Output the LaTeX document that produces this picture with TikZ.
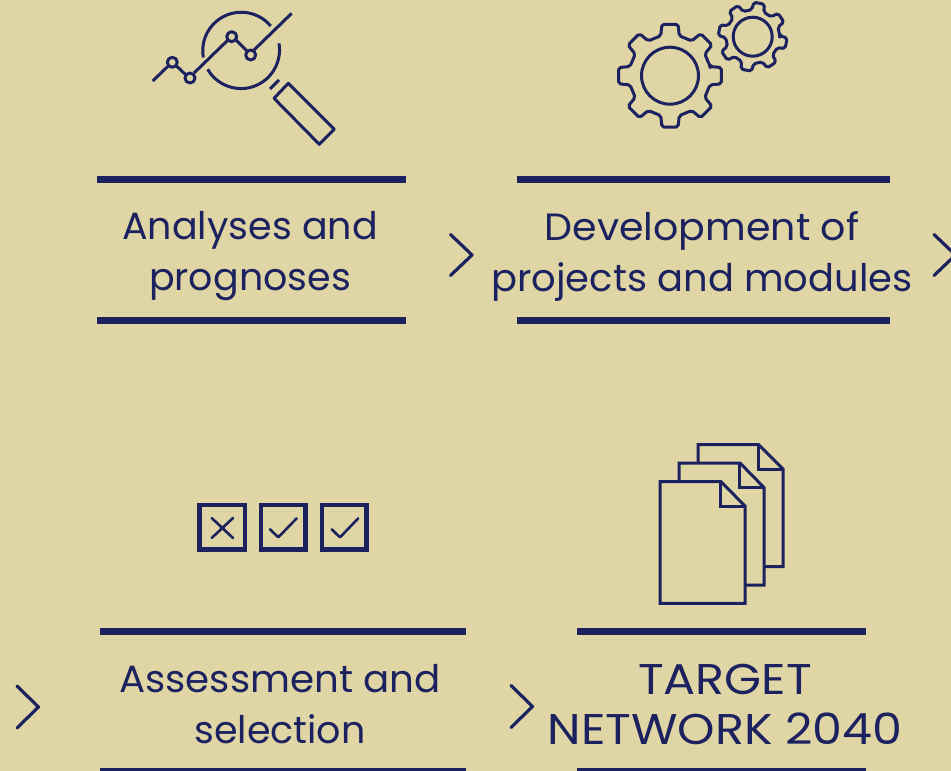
\documentclass[tikz,border=0pt]{standalone}
\usepackage{fontspec}
\setmainfont{Poppins}
\definecolor{bgsand}{HTML}{E0D5A4}
\definecolor{navy}{HTML}{1C2260}
\newcommand{\wide}[2]{{\addfontfeature{FakeStretch=#1}#2}}
\tikzset{
 x=1pt,y=-1pt,
 bar/.style={draw=navy,line width=7pt},
 chev/.style={draw=navy,line width=3.2pt,line cap=round,line join=round},
 icon/.style={draw=navy,line width=3pt,line join=round},
 label/.style={text=navy,align=center,inner sep=0pt,font=\fontsize{38}{51}\selectfont},
 caps/.style={text=navy,align=center,inner sep=0pt,font=\fontsize{43}{50}\selectfont\addfontfeature{FakeStretch=1.107}},
}
\begin{document}
\begin{tikzpicture}
\useasboundingbox (0,0) rectangle (951,771);
\fill[bgsand] (0,0) rectangle (951,771);
% bars
\draw[bar] (97,179.5) -- (406,179.5);
\draw[bar] (97,320.8) -- (406,320.8);
\draw[bar] (517,179.5) -- (890,179.5);
\draw[bar] (517,320.8) -- (890,320.8);
\draw[bar] (100,631) -- (466,631);
\draw[bar] (100,771) -- (466,771);
\draw[bar] (577,631) -- (866,631);
\draw[bar] (577,771) -- (866,771);
% labels
\node[label] (a) at (250,256) {Analyses and\\prognoses};
\node[label] (d) at (702,256) {\wide{1.04}{Development of}\\\wide{1.012}{projects and modules}};
\node[label] (s) at (280,704) {\wide{1.02}{Assessment and}\\selection};
\node[caps] (t) at (725,704) {TARGET\\NETWORK 2040};
% chevrons
\draw[chev] (450.5,234.5) -- (472,255) -- (450.5,275.5);
\draw[chev] (934,234.5) -- (955.5,255) -- (934,275.5);
\draw[chev] (17,686) -- (38.5,707) -- (17,728);
\draw[chev] (511,685.5) -- (532.5,706.5) -- (511,727.5);
% magnifier
\begin{scope}[icon]
\draw (270.7,26) arc[start angle=-40,end angle=-190,radius=38.5];
\draw (207.7,69.3) arc[start angle=150,end angle=-10,radius=38.5];
\draw (152.7,81) -- (168.7,65.5) (176,65.5) -- (186,75) (194,73) -- (228,40) (236,40) -- (247,51) (254,50) -- (291.7,13.3);
\draw (172.3,62.3) circle[radius=5];
\draw (190,78) circle[radius=5];
\draw (231.7,36.7) circle[radius=5];
\draw (250.7,55) circle[radius=5];
\draw (270,89) -- (279,80);
\draw (288.3,83.3) -- (334.3,129.3) -- (319.3,144.3) -- (274,98.3) -- cycle;
\end{scope}
% gears
\def\gear#1#2#3#4#5{%
 \begin{scope}[shift={(#1,#2)}]
 \draw[icon,rounded corners=2pt] (#5-14:#4)
 \foreach \k in {0,...,7}{
  -- ({#5+45*\k-13}:#4) -- ({#5+45*\k-9}:#3) -- ({#5+45*\k+9}:#3) -- ({#5+45*\k+13}:#4)
 } -- cycle;
 \end{scope}}
\gear{670}{75.7}{52}{41}{0}
\draw[icon] (670,75.7) circle[radius=28.5];
\gear{752.7}{36.7}{34.5}{27}{11}
\draw[icon] (752.7,36.7) circle[radius=19.5];
% check boxes
\draw[navy,line width=4.4pt] (199.5,505.2) rectangle (245,549.6);
\draw[navy,line width=4.4pt] (260.7,505.2) rectangle (305.5,549.6);
\draw[navy,line width=4.4pt] (322,505.2) rectangle (366.5,549.6);
\draw[navy,line width=2.6pt,line cap=round] (211.7,518) -- (233,538) (233,518) -- (211.7,538);
\draw[navy,line width=2.6pt,line cap=round,line join=round] (270,529.3) -- (278.3,537.3) -- (296.7,518.3);
\draw[navy,line width=2.6pt,line cap=round,line join=round] (331.7,529.3) -- (340,537.3) -- (358.3,518.3);
% documents
\begin{scope}[navy,line width=3pt,line join=miter]
\draw (660,481.7) -- (721,481.7) -- (745,506) -- (745,603.3) -- (660,603.3) -- cycle;
\draw (720.3,482) -- (720.3,506.7) -- (745,506.7);
\draw (679,481.7) -- (679,463) -- (740,463) -- (764,487.5) -- (764,585) -- (745,585);
\draw (739.3,463) -- (739.3,487.7) -- (764,487.7);
\draw (698,463) -- (698,444.5) -- (758.5,444.5) -- (783,469) -- (783,566.5) -- (764,566.5);
\draw (758,444.5) -- (758,469) -- (783,469);
\end{scope}
\end{tikzpicture}
\end{document}
